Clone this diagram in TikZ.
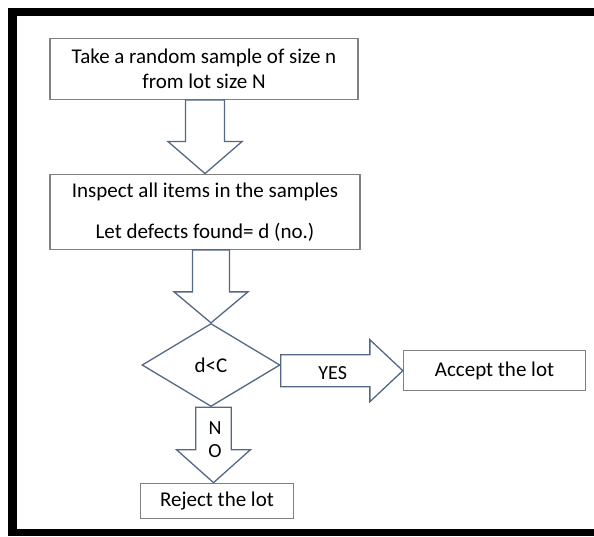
\documentclass[tikz,border=0pt]{standalone}
\usepackage{fontspec}
\setmainfont{Carlito}
\usetikzlibrary{shapes.geometric,calc}
\definecolor{boxgray}{RGB}{128,128,128}
\definecolor{arrowblue}{RGB}{84,104,134}
\tikzset{
	box/.style={draw=boxgray,line width=1.3pt,rectangle,align=center,inner sep=0pt,font=\fontsize{21}{25}\selectfont},
	decision/.style={draw=arrowblue,line width=1.3pt,diamond,inner sep=0pt,font=\fontsize{21}{25}\selectfont},
	blockarr/.style={draw=arrowblue,line width=1.3pt,fill=white,line join=miter},
	lbl/.style={inner sep=0pt,font=\fontsize{20}{24}\selectfont}
}
\newcommand{\downblock}[5]{%
	\draw[blockarr] let \p1=(#1), \p2=(#2) in
		(\x2-#3pt,\y1) -- (\x2-#3pt,\y2+#5pt) -- (\x2-#4pt,\y2+#5pt) -- (\x2,\y2)
		-- (\x2+#4pt,\y2+#5pt) -- (\x2+#3pt,\y2+#5pt) -- (\x2+#3pt,\y1) -- cycle;}
\newcommand{\rightblock}[5]{%
	\draw[blockarr] let \p1=(#1), \p2=(#2) in
		(\x1,\y2+#3pt) -- (\x2-#5pt,\y2+#3pt) -- (\x2-#5pt,\y2+#4pt) -- (\x2,\y2)
		-- (\x2-#5pt,\y2-#4pt) -- (\x2-#5pt,\y2-#3pt) -- (\x1,\y2-#3pt) -- cycle;}

\begin{document}
\begin{tikzpicture}[x=1pt,y=-1pt]
		\useasboundingbox (0,0) rectangle (594,536);
		\fill[black] (8,8) rectangle (594,16);
		\fill[black] (8,8) rectangle (17,536);
		\fill[black] (8,529) rectangle (594,536);
		\node[box,minimum width=308pt,minimum height=61pt] (take) at (204,68.8) {Take a random sample of size n\\from lot size N};
		\node[box,minimum width=310pt,minimum height=75pt] (inspect) at (205,211.7) {Inspect all items in the samples\\[16pt]Let defects found= d (no.)};
		\node[decision,minimum width=138pt,minimum height=83pt] (dec) at (211,365) {d<C};
		\node[box,minimum width=182pt,minimum height=40pt] (accept) at (494.5,370.7) {Accept the lot};
		\node[box,minimum width=153pt,minimum height=35pt] (reject) at (217,500.8) {Reject the lot};
		\downblock{take.south}{inspect.north}{19.5}{37}{32}
		\downblock{inspect.south}{dec.north}{18.5}{37}{31}
		\downblock{dec.south}{[xshift=-3.5pt]reject.north}{17.7}{37}{33}
		\rightblock{dec.east}{accept.west}{16}{31}{33}
		\node[lbl] (yes) at (332.7,373.3) {YES};
		\node[lbl] (n) at (215,428.3) {N};
		\node[lbl] (o) at (215,450.7) {O};
	\end{tikzpicture}
\end{document}
